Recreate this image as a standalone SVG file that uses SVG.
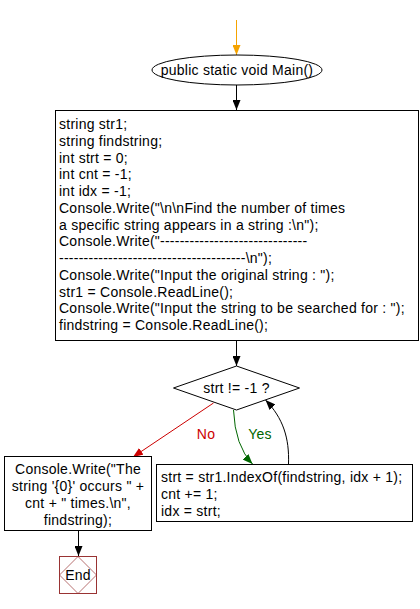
<svg xmlns="http://www.w3.org/2000/svg" width="420" height="609" viewBox="0 0 420 609">
<style>
text{font-family:"Liberation Sans",Arial,sans-serif;font-size:14px;letter-spacing:0.25px;fill:#000}
.node{fill:#fff;stroke:#000;stroke-width:1}
.c{text-anchor:middle}
.ln{fill:none;stroke-width:1}
</style>
<defs>
<marker id="ab" markerUnits="userSpaceOnUse" markerWidth="10" markerHeight="8" refX="10" refY="4" orient="auto"><path d="M0,0 L10,4 L0,8 z" fill="#000"/></marker>
<marker id="ao" markerUnits="userSpaceOnUse" markerWidth="10" markerHeight="8" refX="10" refY="4" orient="auto"><path d="M0,0 L10,4 L0,8 z" fill="#f5a300"/></marker>
<marker id="ar" markerUnits="userSpaceOnUse" markerWidth="10" markerHeight="8" refX="10" refY="4" orient="auto"><path d="M0,0 L10,4 L0,8 z" fill="#cc0000"/></marker>
<marker id="ag" markerUnits="userSpaceOnUse" markerWidth="10" markerHeight="8" refX="10" refY="4" orient="auto"><path d="M0,0 L10,4 L0,8 z" fill="#006600"/></marker>
</defs>
<rect width="420" height="609" fill="#fff"/>
<g id="connectors">
<line class="ln" x1="236.5" y1="20" x2="236.5" y2="55" stroke="#f5a300" marker-end="url(#ao)"/>
<line class="ln" x1="236.5" y1="85" x2="236.5" y2="110" stroke="#000" marker-end="url(#ab)"/>
<line class="ln" x1="236.5" y1="340" x2="236.5" y2="366" stroke="#000" marker-end="url(#ab)"/>
<line class="ln" x1="213.5" y1="403" x2="133" y2="457" stroke="#cc0000" marker-end="url(#ar)"/>
<path class="ln" d="M233.5,410 Q235,446 252.5,464" stroke="#006600" marker-end="url(#ag)"/>
<path class="ln" d="M288.5,464 C289.5,438 283,418 265.5,400" stroke="#000" marker-end="url(#ab)"/>
<line class="ln" x1="78.5" y1="530" x2="78.5" y2="556" stroke="#000" marker-end="url(#ab)"/>
<text x="206" y="439" class="c" style="fill:#cc0000">No</text>
<text x="260" y="439" class="c" style="fill:#006600">Yes</text>
</g>
<g id="start">
<ellipse class="node" cx="237" cy="70" rx="85" ry="15"/>
<text x="237" y="75" class="c">public static void Main()</text>
</g>
<g id="init">
<rect class="node" x="55.5" y="110.5" width="363" height="230"/>
<text x="59" y="129">string str1;</text>
<text x="59" y="145.75">string findstring;</text>
<text x="59" y="162.5">int strt = 0;</text>
<text x="59" y="179.25">int cnt = -1;</text>
<text x="59" y="196">int idx = -1;</text>
<text x="59" y="212.75">Console.Write("\n\nFind the number of times</text>
<text x="59" y="229.5">a specific string appears in a string :\n");</text>
<text x="59" y="246.25">Console.Write("------------------------------</text>
<text x="59" y="263">--------------------------------------\n");</text>
<text x="59" y="279.75">Console.Write("Input the original string : ");</text>
<text x="59" y="296.5">str1 = Console.ReadLine();</text>
<text x="59" y="313.25">Console.Write("Input the string to be searched for : ");</text>
<text x="59" y="330">findstring = Console.ReadLine();</text>
</g>
<g id="decision">
<polygon class="node" points="173.5,388 236.5,366 299.5,388 236.5,410"/>
<text x="236.5" y="393" class="c">strt != -1 ?</text>
</g>
<g id="output">
<rect class="node" x="4.5" y="456.5" width="147" height="74"/>
<text x="78" y="474" class="c">Console.Write("The</text>
<text x="78" y="491" class="c">string '{0}' occurs " +</text>
<text x="78" y="508" class="c">cnt + " times.\n",</text>
<text x="78" y="525" class="c">findstring);</text>
</g>
<g id="loop">
<rect class="node" x="156.5" y="464.5" width="256" height="57"/>
<text x="161" y="482">strt = str1.IndexOf(findstring, idx + 1);</text>
<text x="161" y="499">cnt += 1;</text>
<text x="161" y="516">idx = strt;</text>
</g>
<g id="end">
<rect x="59.5" y="556.5" width="37" height="37" fill="#fff" stroke="#993333"/>
<polygon points="59.5,575 78,556.5 96.5,575 78,593.5" fill="none" stroke="#993333" stroke-width="0.7"/>
<text x="78" y="580" class="c">End</text>
</g>
</svg>
